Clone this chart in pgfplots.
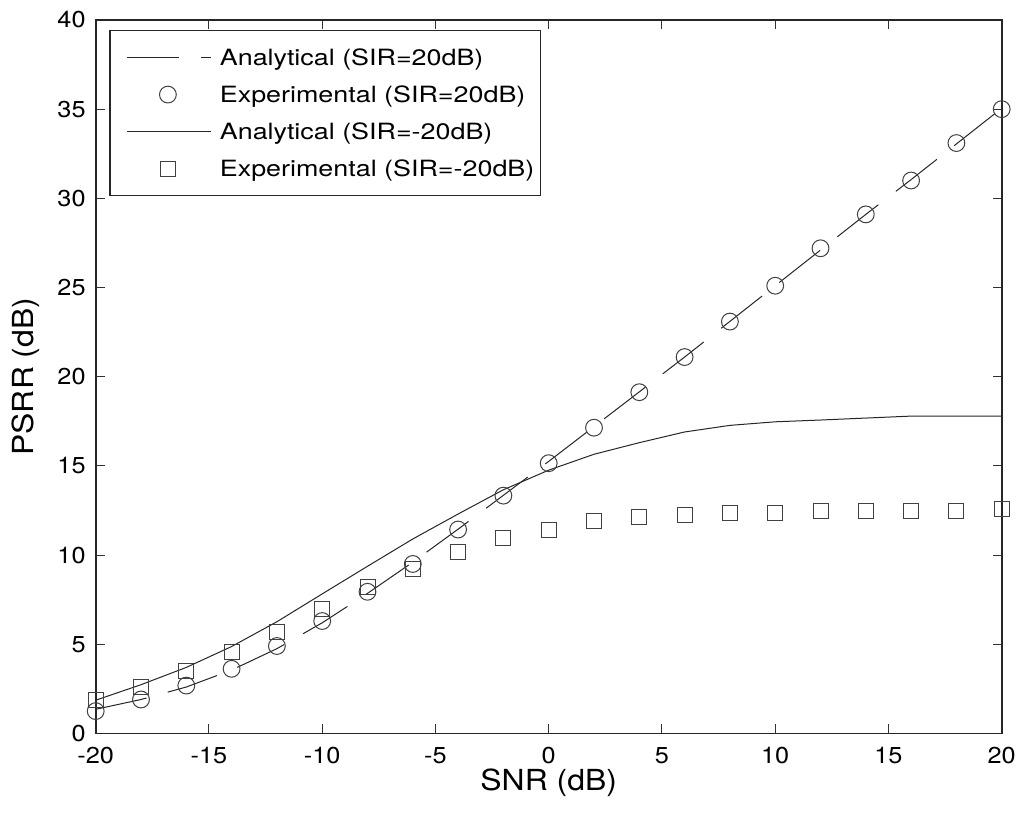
\documentclass[border=0pt]{standalone}
\usepackage{fontspec}
\setmainfont{TeX Gyre Heros}[FakeStretch=1.1]
\newfontfamily\legfont{TeX Gyre Heros}[FakeStretch=1.2]
\usepackage{pgfplots}
\usepackage{pgfplotstable}
\pgfplotsset{compat=1.18}
\pgfplotsset{
  legline/.style={legend image code/.code={\path (0pt,0pt) (51.4pt,0pt); \draw[##1] (5.4pt,0pt) -- (47.4pt,0pt);}},
  legmark/.style={legend image code/.code={\path (0pt,0pt) (51.4pt,0pt); \draw[##1] plot coordinates {(25.7pt,0pt)};}},
}

\pgfplotstableread{
x y
-20 1.35
-18 1.90
-16 2.60
-14 3.55
-12 4.75
-10 6.20
-8 7.85
-6 9.60
-4 11.45
-2 13.35
0 15.25
2 17.20
4 19.15
6 21.10
8 23.10
10 25.10
12 27.10
14 29.10
16 31.05
18 33.05
20 35.05
}\anaA

\pgfplotstableread{
x y
-20 1.25
-18 1.90
-16 2.68
-14 3.62
-12 4.90
-10 6.30
-8 7.94
-6 9.50
-4 11.43
-2 13.33
0 15.15
2 17.14
4 19.13
6 21.10
8 23.09
10 25.10
12 27.20
14 29.10
16 31.00
18 33.10
20 35.00
}\expA

\pgfplotstableread{
x y
-20 1.86
-18 2.73
-16 3.70
-14 4.87
-12 6.26
-10 7.82
-8 9.37
-6 10.90
-4 12.30
-2 13.66
0 14.76
2 15.65
4 16.30
6 16.90
8 17.27
10 17.47
12 17.57
14 17.68
16 17.79
18 17.79
20 17.79
}\anaB

\pgfplotstableread{
x y
-20 1.86
-18 2.58
-16 3.48
-14 4.55
-12 5.70
-10 7.00
-8 8.18
-6 9.24
-4 10.17
-2 10.97
0 11.41
2 11.90
4 12.12
6 12.25
8 12.37
10 12.35
12 12.46
14 12.46
16 12.46
18 12.46
20 12.59
}\expB

\begin{document}
\begin{tikzpicture}
\begin{axis}[
  scale only axis, width=453pt, height=356.7pt,
  xmin=-20, xmax=20, ymin=0, ymax=40,
  xtick={-20,-15,...,20}, ytick={0,5,...,40},
  xtick pos=both, ytick pos=both,
  xticklabel pos=bottom, yticklabel pos=left,
  tick align=inside,
  major tick length=4.5pt,
  tick style={black!80, line width=0.5pt},
  axis line style={black!85, line width=0.8pt},
  /pgf/number format/assume math mode=true,
  tick label style={font=\fontsize{11.5}{13}\selectfont, text=black},
  yticklabel style={xshift=-1.5pt},
  xticklabel style={yshift=-3.5pt},
  xlabel={SNR (dB)}, ylabel={PSRR (dB)},
  label style={font=\fontsize{14.5}{16}\selectfont, text=black},
  xlabel style={at={(axis description cs:0.5,-0.0795)}, anchor=base},
  ylabel style={at={(axis description cs:-0.0689,0.5)}, anchor=base},
  clip=false,
  legend style={at={(rel axis cs:0,1)}, anchor=north west, xshift=6.8pt, yshift=-5pt,
    draw=black!85, line width=0.6pt, fill=white,
    inner xsep=3pt, inner ysep=4.25pt, row sep=0pt,
    cells={anchor=west},
    nodes={inner xsep=0pt, inner ysep=0pt, text height=13.25pt, text depth=5.25pt,
      font=\legfont\fontsize{11.2}{13}\selectfont, text=black}},
]
\addplot[black!85, line width=0.5pt, dash pattern=on 26pt off 11pt, legline]
  table {\anaA};
\addlegendentry{Analytical (SIR=20dB)}
\addplot[only marks, mark=o, mark size=4.2pt, mark options={black!75, line width=0.5pt}, legmark]
  table {\expA};
\addlegendentry{Experimental (SIR=20dB)}
\addplot[black!85, line width=0.5pt, solid, legline]
  table {\anaB};
\addlegendentry{Analytical (SIR=-20dB)}
\addplot[only marks, mark=square, mark size=3.75pt, mark options={black!75, line width=0.5pt}, legmark]
  table {\expB};
\addlegendentry{Experimental (SIR=-20dB)}
\end{axis}
\pgfresetboundingbox
\path (current axis.south west) ++(-47.85pt,-43.35pt) coordinate (bbA);
\path (current axis.north east) ++(9.65pt,10pt) coordinate (bbB);
\path[use as bounding box] (bbA) rectangle (bbB);
\end{tikzpicture}
\end{document}
